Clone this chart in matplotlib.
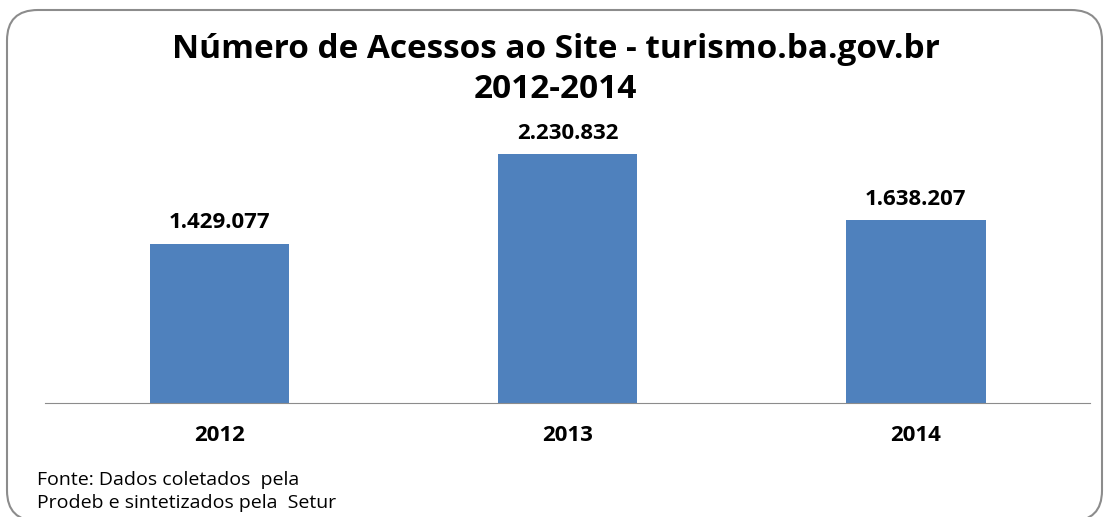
import matplotlib
matplotlib.use('Agg')
import matplotlib.pyplot as plt
from matplotlib.patches import FancyBboxPatch

plt.rcParams['font.family'] = ['Open Sans', 'DejaVu Sans']

years = ['2012', '2013', '2014']
acessos = [1429077, 2230832, 1638207]
labels = ['1.429.077', '2.230.832', '1.638.207']

fig = plt.figure(figsize=(11.05, 5.17), dpi=100)

# rounded frame around the chart
frame = FancyBboxPatch((7 / 1105, -4 / 517), 1095 / 1105, (517 - 10 + 4) / 517,
                       boxstyle='round,pad=0,rounding_size=0.028',
                       transform=fig.transFigure, facecolor='none',
                       edgecolor='#8c8c8c', linewidth=1.5, mutation_aspect=2.1,
                       zorder=0)
fig.patches.append(frame)

ax = fig.add_axes([45 / 1105, (517 - 403) / 517, 1045 / 1105, 279 / 517])
ax.set_facecolor('none')

x = range(len(years))
ax.bar(x, acessos, width=0.4, color='#4F81BD')
for i, v in enumerate(acessos):
    ax.text(i, v + 90000, labels[i], ha='center', va='bottom',
            fontsize=16, fontweight='bold')

ax.set_xlim(-0.5, 2.5)
ax.set_ylim(0, 2.5e6)
ax.set_xticks(list(x))
ax.set_xticklabels(years, fontsize=16, fontweight='bold')
ax.tick_params(axis='x', length=0, pad=16)
ax.set_yticks([])
for s in ['top', 'right', 'left']:
    ax.spines[s].set_visible(False)
ax.spines['bottom'].set_color('#8c8c8c')

fig.text(0.503, 1 - 49 / 517, 'Número de Acessos ao Site - turismo.ba.gov.br',
         ha='center', va='center', fontsize=24, fontweight='bold')
fig.text(0.503, 1 - 90 / 517, '2012-2014', ha='center', va='center',
         fontsize=24, fontweight='bold')

fig.text(37 / 1105, 1 - 480 / 517, 'Fonte: Dados coletados  pela',
         ha='left', va='center', fontsize=14)
fig.text(37 / 1105, 1 - 503 / 517, 'Prodeb e sintetizados pela  Setur',
         ha='left', va='center', fontsize=14)

fig.savefig('out.png', dpi=100)
